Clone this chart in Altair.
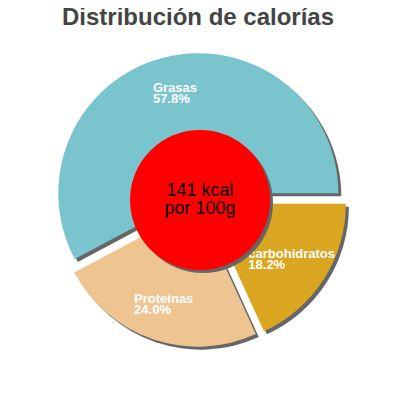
import math
import altair as alt
import pandas as pd

# ---- data ----
categories = ["carbohidratos", "Proteínas", "Grasas"]
percentages = [18.2, 24.0, 57.8]
slice_colors = ["#DAA520", "#EEC591", "#7AC5CD"]
title_text = "Distribución de calorías"
energy_kcal = [141]
energy_basis = ["100g"]

# ---- layout constants ----
CX, CY = 192, 192
R = 140
EXPLODE = 7
SHADOW = 3
LABEL_R = 103
CENTER_R = 70
SHADOW_COLOR = "#666666"
FONT = "Liberation Sans"
LABEL_FS = 13
LABEL_LH = 11
CENTER_LH = 18

df = pd.DataFrame({"cat": categories, "pct": percentages, "order": list(range(len(categories)))})

base = (
    alt.Chart(df)
    .transform_joinaggregate(total="sum(pct)")
    .transform_window(cum="sum(pct)", sort=[alt.SortField("order")], frame=[None, 0])
    .transform_calculate(
        start="datum.cum - datum.pct",
        mid="PI/2 + 2*PI*(datum.cum - datum.pct/2)/datum.total",
        label="datum.cat + '\\n' + format(datum.pct, '.1f') + '%'",
    )
    .transform_calculate(
        cx=f"{CX} + {EXPLODE}*sin(datum.mid)",
        cy=f"{CY} - {EXPLODE}*cos(datum.mid)",
    )
    .transform_calculate(
        sx=f"datum.cx + {SHADOW}",
        sy=f"datum.cy + {SHADOW}",
        lx=f"datum.cx + {LABEL_R}*sin(datum.mid) - length(datum.cat)*3.4",
        ly=f"datum.cy - {LABEL_R}*cos(datum.mid)",
    )
)

theta_enc = alt.Theta(
    "start:Q",
    stack=None,
    scale=alt.Scale(domain=[0, 100], range=[math.pi / 2, math.pi / 2 + 2 * math.pi]),
)

shadows = base.mark_arc(radius=R, color=SHADOW_COLOR).encode(
    x=alt.X("sx:Q", scale=None, axis=None, stack=None),
    y=alt.Y("sy:Q", scale=None, axis=None, stack=None),
    theta=theta_enc,
    theta2="cum:Q",
)

slices = base.mark_arc(radius=R).encode(
    x=alt.X("cx:Q", scale=None, axis=None, stack=None),
    y=alt.Y("cy:Q", scale=None, axis=None, stack=None),
    theta=theta_enc,
    theta2="cum:Q",
    color=alt.Color("cat:N", scale=alt.Scale(domain=categories, range=slice_colors), legend=None),
)

labels = base.mark_text(
    align="left", baseline="middle", lineBreak="\n", lineHeight=LABEL_LH,
    dy=-LABEL_LH / 2, fontSize=LABEL_FS, fontWeight="bold", font=FONT, color="white",
).encode(
    x=alt.X("lx:Q", scale=None, axis=None, stack=None),
    y=alt.Y("ly:Q", scale=None, axis=None, stack=None),
    text="label:N",
)

center_df = pd.DataFrame({"kcal": energy_kcal, "basis": energy_basis})
center_base = alt.Chart(center_df).transform_calculate(
    txt="datum.kcal + ' kcal\\npor ' + datum.basis"
)

circle_shadow = center_base.mark_arc(
    radius=CENTER_R, theta=0, theta2=2 * math.pi, color=SHADOW_COLOR
).encode(x=alt.value(CX + SHADOW), y=alt.value(CY + SHADOW))

circle = center_base.mark_arc(
    radius=CENTER_R, theta=0, theta2=2 * math.pi, color="#FF0000"
).encode(x=alt.value(CX), y=alt.value(CY))

center_text = center_base.mark_text(
    align="center", baseline="middle", lineBreak="\n", lineHeight=CENTER_LH,
    dy=-CENTER_LH / 2, fontSize=18, font=FONT, color="black",
).encode(x=alt.value(CX), y=alt.value(CY), text="txt:N")

title_df = pd.DataFrame({"t": [title_text]})
title = alt.Chart(title_df).mark_text(
    align="center", baseline="alphabetic", fontSize=24, fontWeight="bold",
    font=FONT, color="#444444",
).encode(x=alt.value(CX - 2), y=alt.value(17), text="t:N")

chart = (
    alt.layer(shadows, slices, labels, circle_shadow, circle, center_text, title)
    .properties(width=384, height=384, padding=0, autosize="none")
    .configure_view(stroke=None)
)

chart.save("out.html", embed_options={"renderer": "svg", "actions": False})
